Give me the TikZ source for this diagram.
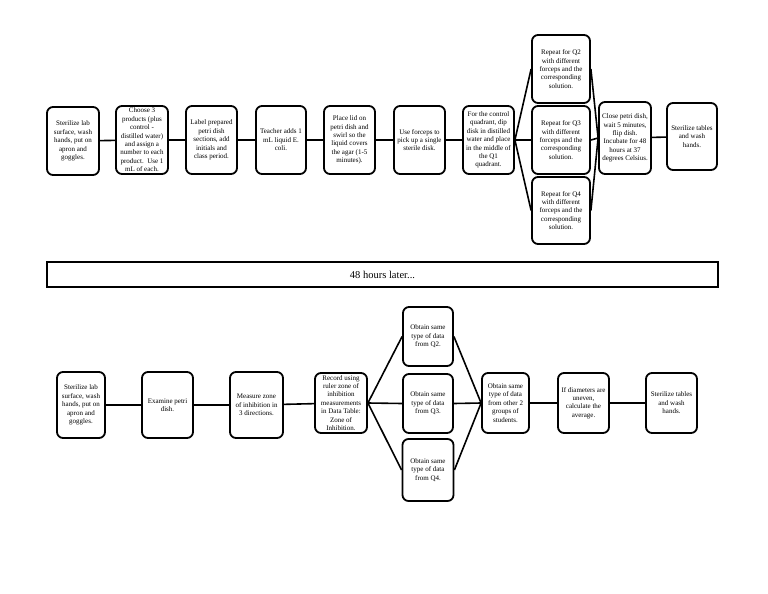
\documentclass[tikz,border=0pt]{standalone}
\usepackage{fontspec}
\setmainfont{Liberation Serif}
\begin{document}
\begin{tikzpicture}[x=1pt,y=-1pt,
  box/.style={draw=black,line width=1.8pt,rounded corners=6pt,fill=white,align=center,inner sep=0pt,
    font=\fontsize{7}{8.4}\selectfont},
  conn/.style={draw=black,line width=1.6pt},
  banner/.style={draw=black,line width=1.6pt,inner sep=0pt,font=\fontsize{10.5}{12}\selectfont}]
\useasboundingbox (0,0) rectangle (768,594);
% top row
\node[box,minimum width=52,minimum height=68] (t1) at (73,141) {Sterilize lab\\surface, wash\\hands, put on\\apron and\\goggles.};
\node[box,minimum width=52,minimum height=68] (t2) at (142,140) {Choose 3\\products (plus\\control -\\distilled water)\\and assign a\\number to each\\product.\ \ Use 1\\mL of each.};
\node[box,minimum width=51,minimum height=68] (t3) at (211.5,140) {Label prepared\\petri dish\\sections, add\\initials and\\class period.};
\node[box,minimum width=50,minimum height=68] (t4) at (281,140) {Teacher adds 1\\mL liquid E.\\coli.};
\node[box,minimum width=51,minimum height=68] (t5) at (349.5,140) {Place lid on\\petri dish and\\swirl so the\\liquid covers\\the agar (1-5\\minutes).};
\node[box,minimum width=51,minimum height=68] (t6) at (419.5,140) {Use forceps to\\pick up a single\\sterile disk.};
\node[box,minimum width=51,minimum height=68] (t7) at (488.5,140) {For the control\\quadrant, dip\\disk in distilled\\water and place\\in the middle of\\the Q1\\quadrant.};
\node[box,minimum width=58,minimum height=68] (q2) at (561,69) {Repeat for Q2\\with different\\forceps and the\\corresponding\\solution.};
\node[box,minimum width=58,minimum height=68] (q3) at (561,140) {Repeat for Q3\\with different\\forceps and the\\corresponding\\solution.};
\node[box,minimum width=58,minimum height=67] (q4) at (561,210.5) {Repeat for Q4\\with different\\forceps and the\\corresponding\\solution.};
\node[box,minimum width=52,minimum height=72] (t8) at (625,138) {Close petri dish,\\wait 5 minutes,\\flip dish.\\Incubate for 48\\hours at 37\\degrees Celsius.};
\node[box,minimum width=50,minimum height=67] (t9) at (692,136.5) {Sterilize tables\\and wash\\hands.};
\draw[conn] (t1) -- (t2);
\draw[conn] (t2) -- (t3);
\draw[conn] (t3) -- (t4);
\draw[conn] (t4) -- (t5);
\draw[conn] (t5) -- (t6);
\draw[conn] (t6) -- (t7);
\draw[conn] (t7.east) -- (q2.west);
\draw[conn] (t7.east) -- (q3.west);
\draw[conn] (t7.east) -- (q4.west);
\draw[conn] (q2.east) -- (t8.west);
\draw[conn] (q3.east) -- (t8.west);
\draw[conn] (q4.east) -- (t8.west);
\draw[conn] (t8) -- (t9);
% banner
\node[banner,minimum width=671,minimum height=25] (ban) at (382.5,274.5) {48 hours later...};
% bottom row
\node[box,minimum width=48,minimum height=66] (b1) at (81,405) {Sterilize lab\\surface, wash\\hands, put on\\apron and\\goggles.};
\node[box,minimum width=51,minimum height=66] (b2) at (167.5,405) {Examine petri\\dish.};
\node[box,minimum width=53,minimum height=66] (b3) at (256.5,405) {Measure zone\\of inhibition in\\3 directions.};
\node[box,minimum width=52,minimum height=60] (b4) at (341,403) {Record using\\ruler zone of\\inhibition\\measurements\\in Data Table:\\Zone of\\Inhibition.};
\node[box,minimum width=50,minimum height=59] (o2) at (428,336.5) {Obtain same\\type of data\\from Q2.};
\node[box,minimum width=50,minimum height=59] (o3) at (428,403.5) {Obtain same\\type of data\\from Q3.};
\node[box,minimum width=51,minimum height=62] (o4) at (428,470) {Obtain same\\type of data\\from Q4.};
\node[box,minimum width=47,minimum height=60] (b5) at (505.5,403) {Obtain same\\type of data\\from other 2\\groups of\\students.};
\node[box,minimum width=51,minimum height=60] (b6) at (583.5,403) {If diameters are\\uneven,\\calculate the\\average.};
\node[box,minimum width=51,minimum height=60] (b7) at (671.5,403) {Sterilize tables\\and wash\\hands.};
\draw[conn] (b1) -- (b2);
\draw[conn] (b2) -- (b3);
\draw[conn] (b3) -- (b4);
\draw[conn] (b4.east) -- (o2.west);
\draw[conn] (b4.east) -- (o3.west);
\draw[conn] (b4.east) -- (o4.west);
\draw[conn] (o2.east) -- (b5.west);
\draw[conn] (o3.east) -- (b5.west);
\draw[conn] (o4.east) -- (b5.west);
\draw[conn] (b5) -- (b6);
\draw[conn] (b6) -- (b7);
\end{tikzpicture}
\end{document}
